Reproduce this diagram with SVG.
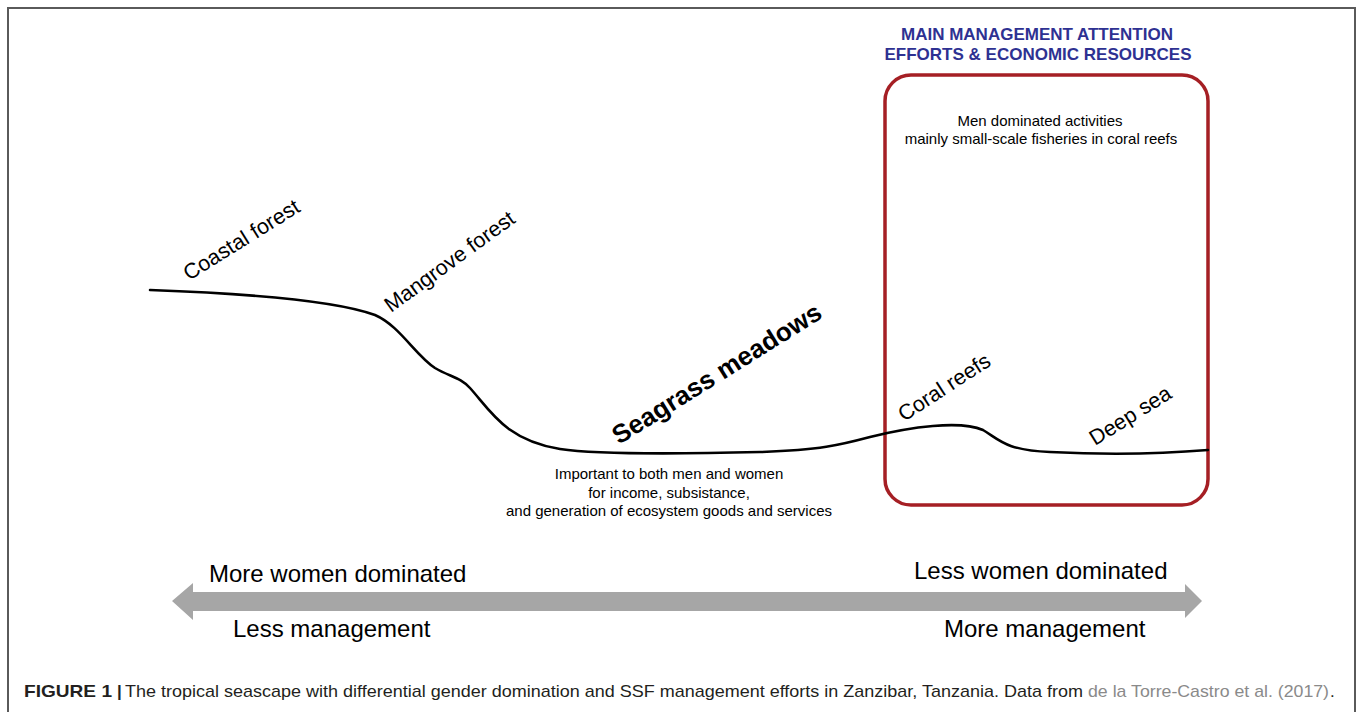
<svg xmlns="http://www.w3.org/2000/svg" width="1357" height="712" viewBox="0 0 1357 712">
  <style>
    .label { font-family: "Liberation Sans", Arial, sans-serif; font-size: 21.5px; fill: #000; }
    .bold-label { font-family: "Liberation Sans", Arial, sans-serif; font-size: 26px; font-weight: bold; fill: #000; }
    .note { font-family: "Liberation Sans", Arial, sans-serif; font-size: 15px; fill: #000; text-anchor: middle; }
    .axis { font-family: "Liberation Sans", Arial, sans-serif; font-size: 24px; fill: #000; }
    .title { font-family: "Liberation Sans", Arial, sans-serif; font-size: 17px; font-weight: bold; fill: #2e3192; text-anchor: middle; }
    .caption { font-family: "Liberation Sans", Arial, sans-serif; font-size: 17px; fill: #231f20; }
    .ref { fill: #8a8a8a; }
  </style>

  <rect width="1357" height="712" fill="#ffffff"/>
  <!-- figure frame -->
  <rect x="8" y="8" width="1347" height="720" fill="none" stroke="#5a5a5a" stroke-width="2"/>

  <!-- management focus box -->
  <g id="management-box">
    <text class="title" x="1037" y="40">MAIN MANAGEMENT ATTENTION</text>
    <text class="title" x="1038" y="60">EFFORTS &amp; ECONOMIC RESOURCES</text>
    <rect x="885" y="75" width="323" height="430" rx="26" ry="26" fill="none" stroke="#a51f24" stroke-width="3.5"/>
    <text class="note" x="1040" y="126">Men dominated activities</text>
    <text class="note" x="1041" y="144">mainly small-scale fisheries in coral reefs</text>
  </g>

  <!-- seascape profile -->
  <g id="connectors">
    <path d="M150,290 C260,294 340,302 375,315 C400,326 415,355 435,368 C450,377 460,377 470,388 C490,410 505,440 560,449 C600,455 680,454 760,452 C820,450 840,445 870,437 C910,427 960,420 983,430 C1000,440 1005,450 1050,452 C1110,455 1160,454 1208,450" fill="none" stroke="#000" stroke-width="2.6" stroke-linecap="round"/>
  </g>

  <g id="coastal-forest">
    <text class="label" transform="translate(189,281) rotate(-32)">Coastal forest</text>
  </g>
  <g id="mangrove-forest">
    <text class="label" transform="translate(391,313) rotate(-36)">Mangrove forest</text>
  </g>
  <g id="seagrass-meadows">
    <text class="bold-label" transform="translate(619,445) rotate(-32)">Seagrass meadows</text>
    <text class="note" x="669" y="479">Important to both men and women</text>
    <text class="note" x="669" y="498">for income, subsistance,</text>
    <text class="note" x="669" y="516">and generation of ecosystem goods and services</text>
  </g>
  <g id="coral-reefs">
    <text class="label" transform="translate(904,422) rotate(-33)">Coral reefs</text>
  </g>
  <g id="deep-sea">
    <text class="label" transform="translate(1095,446) rotate(-32)">Deep sea</text>
  </g>

  <!-- gradient of gender domination and management -->
  <g id="double-arrow">
    <polygon points="172,601 193,583 193,592 1185,592 1185,584 1202,601 1185,618 1185,611 193,611 193,620" fill="#a6a6a6"/>
    <text class="axis" x="209" y="582">More women dominated</text>
    <text class="axis" x="914" y="579">Less women dominated</text>
    <text class="axis" x="233" y="637">Less management</text>
    <text class="axis" x="944" y="637">More management</text>
  </g>

  <!-- figure caption -->
  <g id="caption">
    <text class="caption" x="24" y="697" font-weight="bold" textLength="88" lengthAdjust="spacingAndGlyphs">FIGURE 1</text>
    <text class="caption" x="117" y="697" font-weight="bold">|</text>
    <text class="caption" x="125" y="697" textLength="958" lengthAdjust="spacingAndGlyphs">The tropical seascape with differential gender domination and SSF management efforts in Zanzibar, Tanzania. Data from</text>
    <text class="caption ref" x="1088" y="697" textLength="241" lengthAdjust="spacingAndGlyphs">de la Torre-Castro et al. (2017)</text>
    <text class="caption" x="1330" y="697">.</text>
  </g>
</svg>
